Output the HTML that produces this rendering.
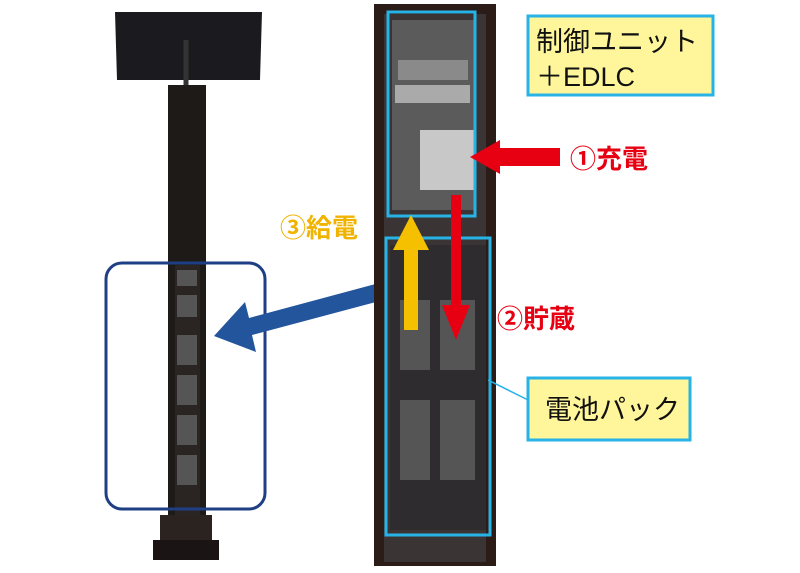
<!DOCTYPE html>
<html><head><meta charset="utf-8"><style>
body{margin:0;background:#fff;width:800px;height:568px;overflow:hidden}
</style></head><body>
<svg width="800" height="568" viewBox="0 0 800 568" xmlns="http://www.w3.org/2000/svg" font-family="Liberation Sans, Noto Sans CJK JP, sans-serif">
<rect width="800" height="568" fill="#fff"/>
<!-- left pole -->
<polygon points="115,12 262,12 260,80 117,80" fill="#1b1b1f"/>
<line x1="186" y1="40" x2="186" y2="90" stroke="#333" stroke-width="5"/>
<rect x="168" y="85" width="38" height="440" fill="#1e1a18"/>
<rect x="175" y="265" width="25" height="250" fill="#2a2523"/>
<g fill="#555">
<rect x="177" y="270" width="20" height="16"/><rect x="177" y="295" width="20" height="22"/>
<rect x="177" y="335" width="20" height="30"/><rect x="177" y="375" width="20" height="30"/>
<rect x="177" y="415" width="20" height="30"/><rect x="177" y="455" width="20" height="30"/>
</g>
<rect x="160" y="515" width="52" height="30" fill="#2a2320"/>
<rect x="153" y="540" width="66" height="20" fill="#1a1514"/>
<rect x="106" y="263" width="159" height="246" rx="16" fill="none" stroke="#1f3f85" stroke-width="3"/>
<!-- blue arrow -->
<polygon points="383,282 387,299 252,335 256,352 214,336 245,302 249,318" fill="#23559c"/>
<!-- right cabinet -->
<rect x="374" y="4" width="122" height="562" fill="#2b1c17"/>
<rect x="384" y="14" width="102" height="548" fill="#3a3434"/>
<rect x="392" y="20" width="82" height="190" fill="#5b5b5b"/>
<rect x="398" y="60" width="70" height="20" fill="#8a8a8a"/>
<rect x="395" y="85" width="75" height="18" fill="#aaa"/>
<rect x="420" y="130" width="55" height="60" fill="#c8c8c8"/>
<rect x="390" y="245" width="96" height="285" fill="#2e2c2e"/>
<g fill="#555"><rect x="400" y="300" width="30" height="70"/><rect x="440" y="300" width="35" height="70"/>
<rect x="400" y="400" width="30" height="80"/><rect x="440" y="400" width="35" height="80"/></g>
<rect x="388" y="12" width="87" height="204" fill="none" stroke="#27b3e6" stroke-width="3"/>
<rect x="386" y="238" width="104" height="297" fill="none" stroke="#27b3e6" stroke-width="3"/>
<!-- red arrows -->
<polygon points="560,148 500,148 500,140 470,157 500,174 500,166 560,166" fill="#e60012"/>
<polygon points="451,195 461,195 461,305 470,305 456,340 442,305 451,305" fill="#e60012"/>
<!-- yellow arrow -->
<polygon points="404,330 418,330 418,250 429,250 411,215 393,250 404,250" fill="#f5c000"/>
<!-- labels -->
<rect x="528" y="16" width="185" height="79" fill="#fff59a" stroke="#27b3e6" stroke-width="3"/>
<text x="536" y="51" font-size="27" fill="#111">制御ユニット</text>
<text x="536" y="86" font-size="27" fill="#111">＋EDLC</text>
<rect x="528" y="378" width="162" height="62" fill="#fff59a" stroke="#27b3e6" stroke-width="3"/>
<text x="545" y="419" font-size="27" fill="#111">電池パック</text>
<line x1="528" y1="400" x2="488" y2="380" stroke="#27b3e6" stroke-width="1.5"/>
<text x="570" y="168" font-size="26" font-weight="bold" fill="#e60012">①充電</text>
<text x="497" y="328" font-size="26" font-weight="bold" fill="#e60012">②貯蔵</text>
<text x="280" y="237" font-size="26" font-weight="bold" fill="#f0b400">③給電</text>
</svg>
</body></html>
